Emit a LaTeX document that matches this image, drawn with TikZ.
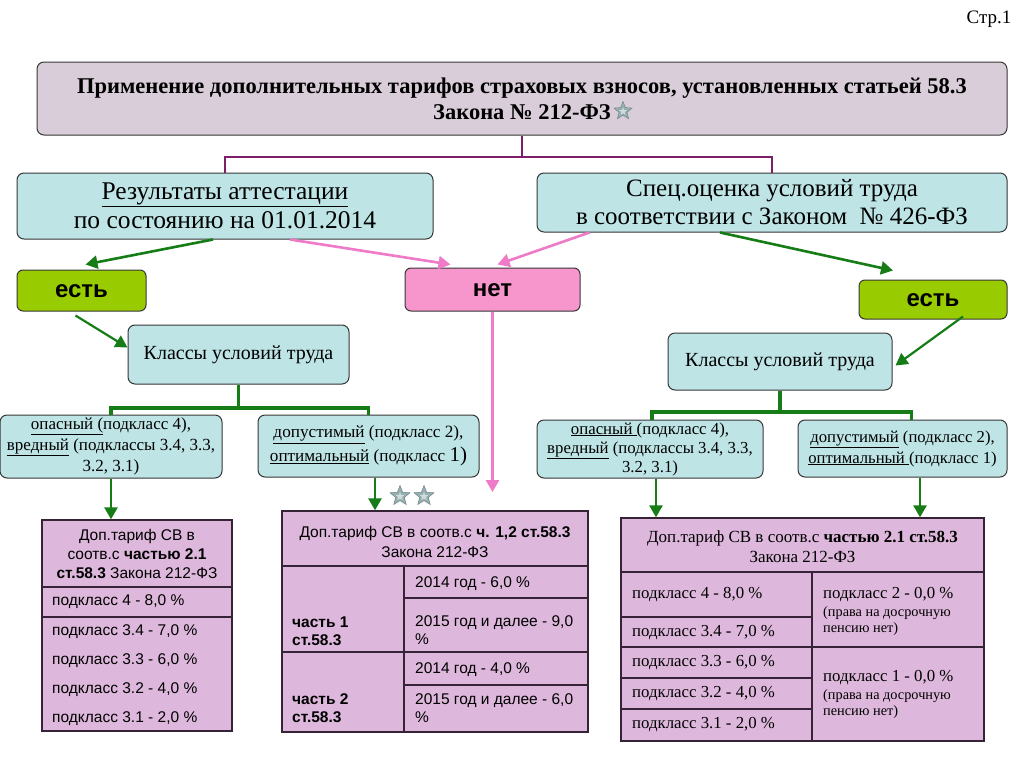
\documentclass[tikz,border=0pt]{standalone}
\usepackage{fontspec}
\setmainfont{Liberation Serif}
\newfontfamily\arialf{Liberation Sans}
\usetikzlibrary{arrows.meta,shapes.geometric}
\newcommand\myfs[2]{\fontsize{#1}{#2}\selectfont}
\definecolor{titlefill}{RGB}{216,205,216}
\definecolor{cyanfill}{RGB}{190,228,230}
\definecolor{tabfill}{RGB}{222,184,220}
\definecolor{ygreen}{RGB}{153,204,0}
\definecolor{pinkfill}{RGB}{246,150,204}
\definecolor{dgreen}{RGB}{22,125,22}
\definecolor{pinkln}{RGB}{238,122,200}
\definecolor{purpln}{RGB}{125,30,105}
\definecolor{bordc}{RGB}{55,55,55}
\definecolor{tabln}{RGB}{55,35,55}
\definecolor{starc}{RGB}{150,176,178}
\tikzset{
  rbox/.style={draw=bordc, line width=1pt, rounded corners=7pt, fill=cyanfill, align=center, inner sep=2pt},
  titlebox/.style={rbox, fill=titlefill},
  yesbox/.style={draw=bordc, line width=1pt, rounded corners=6pt, fill=ygreen, font=\arialf\bfseries\myfs{24}{26}, text height=13pt, text depth=0pt},
  nobox/.style={draw=bordc, line width=1pt, rounded corners=6pt, fill=pinkfill, font=\arialf\bfseries\myfs{24}{26}, text height=13pt, text depth=0pt},
  tab/.style={draw=tabln, line width=1.4pt, fill=tabfill, inner sep=0pt},
  tabrule/.style={draw=tabln, line width=1.2pt},
  garr/.style={draw=dgreen, line width=2.6pt, -{Triangle[length=12pt,width=13pt]}},
  parr/.style={draw=pinkln, line width=2.6pt, -{Triangle[length=12pt,width=13pt]}},
  gline/.style={draw=dgreen, line width=3.8pt},
  pline/.style={draw=purpln, line width=2.8pt},
  stxt/.style={anchor=west, inner sep=0pt, font=\arialf\myfs{15.5}{18}, align=left},
  rtxt/.style={anchor=west, inner sep=0pt, font=\myfs{16.8}{19}, align=left},
  bigstar/.style={star, star points=5, star point ratio=2.3, minimum size=#1, fill=starc, draw=starc!75!black, line width=0.5pt, inner sep=0pt},
  smstar/.style={star, star points=5, star point ratio=2.3, minimum size=#1, fill=white!55!starc, inner sep=0pt},
}
\begin{document}
\begin{tikzpicture}[x=1pt,y=-1pt]
\useasboundingbox (0,0) rectangle (1024,768);
\fill[white] (0,0) rectangle (1024,768);

\node[anchor=center, font=\myfs{19}{21}] (page) at (989,19) {Стр.1};

% title
\node[titlebox, minimum width=970pt, minimum height=73pt, font=\myfs{22.5}{26}\bfseries] (title) at (522,98.5)
  {Применение дополнительных тарифов страховых взносов, установленных статьей 58.3\\ Закона № 212-ФЗ};
\node[bigstar=19pt] (st0) at (623,111) {};
\node[smstar=8pt] (st0i) at (623,111.5) {};

% level 2
\node[rbox, minimum width=416pt, minimum height=66pt, font=\myfs{25.5}{29}] (res) at (225,206)
  {\underline{Результаты аттестации}\\ по состоянию на 01.01.2014};
\node[rbox, minimum width=470pt, minimum height=59pt, font=\myfs{25}{28}] (spec) at (772,202.5)
  {Спец.оценка условий труда\\ в соответствии с Законом\ \ № 426-ФЗ};

\coordinate (pj) at (522,157);
\draw[pline] (title.south) -- (pj);
\draw[pline] (pj) -| (res.north);
\draw[pline] (pj) -| (spec.north);

% yes / no
\node[yesbox, minimum width=129pt, minimum height=41pt] (estL) at (81.5,290.5) {есть};
\node[nobox, minimum width=175pt, minimum height=43pt] (net) at (492.5,289.5) {нет};
\node[yesbox, minimum width=148pt, minimum height=39pt] (estR) at (933,299.5) {есть};

\draw[garr] ([xshift=-12pt]res.south) -- ([xshift=4pt,yshift=5pt]estL.north);
\draw[parr] ([xshift=65pt]res.south) -- ([xshift=-42pt,yshift=3pt]net.north);
\draw[parr] ([xshift=53pt]spec.south west) -- ([xshift=5pt,yshift=3pt]net.north);
\draw[garr] ([xshift=-52pt]spec.south) -- ([xshift=-40pt,yshift=9pt]estR.north);

% classes
\node[rbox, minimum width=221pt, minimum height=59pt, font=\myfs{20}{23}] (klL) at (238.5,354.5) {Классы условий труда};
\node[rbox, minimum width=224pt, minimum height=57pt, font=\myfs{20}{23}] (klR) at (780,361.5) {Классы условий труда};
\draw[garr, line width=2.2pt] ([xshift=-6pt,yshift=-4pt]estL.south) -- ([yshift=7pt]klL.west);
\draw[garr, line width=2.2pt] ([xshift=30pt,yshift=3pt]estR.south) -- ([xshift=3pt,yshift=-4pt]klR.east);

% sub-class boxes
\node[rbox, minimum width=222pt, minimum height=63pt, font=\myfs{17}{21}] (b1) at (111,446.5)
  {\underline{опасный (}подкласс 4),\\ \underline{вредный} (подклассы 3.4, 3.3,\\ 3.2, 3.1)};
\node[rbox, minimum width=221pt, minimum height=62pt, font=\myfs{17.2}{24}] (b2) at (368.5,446)
  {\underline{допустимый} (подкласс 2),\\ \underline{оптимальный} (подкласс {\myfs{21}{24}1)}};
\node[rbox, minimum width=226pt, minimum height=58pt, font=\myfs{16.8}{19}] (rb1) at (650,449)
  {\underline{опасный }(подкласс 4),\\ \underline{вредный} (подклассы 3.4, 3.3,\\ 3.2, 3.1)};
\node[rbox, minimum width=209pt, minimum height=57pt, font=\myfs{16.7}{21}] (rb2) at (902.5,448.5)
  {\underline{допустимый} (подкласс 2),\\ \underline{оптимальный }(подкласс 1)};

\coordinate (tjL) at (238.5,408);
\draw[gline] (klL.south) -- (tjL);
\draw[gline] (b1.north) |- (tjL) -| (b2.north);
\coordinate (tjR) at (780,412);
\draw[gline] (klR.south) -- (tjR);
\draw[gline] ([xshift=2pt]rb1.north) |- (tjR) -| ([xshift=9pt]rb2.north);

% pink vertical
\draw[parr] (net.south) -- (492.5,492);

% tables
\node[tab, minimum width=190pt, minimum height=211pt] (tL) at (137,625.5) {};
\node[tab, minimum width=306pt, minimum height=221pt] (tM) at (435,621.5) {};
\node[tab, minimum width=363pt, minimum height=223pt] (tR) at (802.5,629.5) {};

\draw[garr, line width=2.8pt] (b1.south) -- (b1.south |- tL.north);
\draw[garr, line width=2.8pt] ([xshift=6.5pt]b2.south) -- ([xshift=6.5pt]b2.south |- tM.north);
\draw[garr, line width=2.8pt] ([xshift=6pt]rb1.south) -- ([xshift=6pt]rb1.south |- tR.north);
\draw[garr, line width=2.8pt] ([xshift=17.5pt]rb2.south) -- ([xshift=17.5pt]rb2.south |- tR.north);

\node[bigstar=21pt] (st1) at (400,496) {};
\node[smstar=9pt] (st1i) at (400,496.5) {};
\node[bigstar=21pt] (st2) at (424,496) {};
\node[smstar=9pt] (st2i) at (424,496.5) {};

% left table
\draw[tabrule] (42,587) -- (232,587);
\draw[tabrule] (42,617) -- (232,617);
\node[font=\arialf\myfs{15.5}{19}, align=center, inner sep=0pt] (tLh) at (137,554)
  {Доп.тариф СВ в\\ соотв.с \textbf{частью 2.1}\\ \textbf{ст.58.3} Закона 212-ФЗ};
\node[stxt] (tL1) at (52,602) {подкласс 4 - 8,0 \%};
\node[stxt] (tL2) at (52,632) {подкласс 3.4 - 7,0 \%};
\node[stxt] (tL3) at (52,661) {подкласс 3.3 - 6,0 \%};
\node[stxt] (tL4) at (52,690) {подкласс 3.2 - 4,0 \%};
\node[stxt] (tL5) at (52,719) {подкласс 3.1 - 2,0 \%};

% middle table
\draw[tabrule] (282,566) -- (588,566);
\draw[tabrule] (404,566) -- (404,732);
\draw[tabrule] (404,598) -- (588,598);
\draw[tabrule] (282,652) -- (588,652);
\draw[tabrule] (404,685) -- (588,685);
\node[font=\arialf\myfs{15.5}{20}, align=center, inner sep=0pt] (tMh) at (435,542)
  {Доп.тариф СВ в соотв.с \textbf{ч. 1,2 ст.58.3}\\ Закона 212-ФЗ};
\node[stxt, font=\arialf\bfseries\myfs{15.5}{18}] (tMa) at (292,631) {часть 1\\ ст.58.3};
\node[stxt, font=\arialf\bfseries\myfs{15.5}{18}] (tMb) at (292,708) {часть 2\\ ст.58.3};
\node[stxt] (tM1) at (415,584) {2014 год - 6,0 \%};
\node[stxt] (tM2) at (415,630) {2015 год и далее - 9,0\\ \%};
\node[stxt] (tM3) at (415,670) {2014 год - 4,0 \%};
\node[stxt] (tM4) at (415,708) {2015 год и далее - 6,0\\ \%};

% right table
\draw[tabrule] (621,572) -- (984,572);
\draw[tabrule] (812,572) -- (812,741);
\draw[tabrule] (621,617) -- (812,617);
\draw[tabrule] (621,647) -- (984,647);
\draw[tabrule] (621,678) -- (812,678);
\draw[tabrule] (621,709) -- (812,709);
\node[font=\myfs{17}{20}, align=center, inner sep=0pt] (tRh) at (802.5,547)
  {Доп.тариф СВ в соотв.с \textbf{частью 2.1 ст.58.3}\\ Закона 212-ФЗ};
\node[rtxt] (tR1) at (632,595) {подкласс 4 - 8,0 \%};
\node[rtxt] (tR2) at (632,633) {подкласс 3.4 - 7,0 \%};
\node[rtxt] (tR3) at (632,663) {подкласс 3.3 - 6,0 \%};
\node[rtxt] (tR4) at (632,694) {подкласс 3.2 - 4,0 \%};
\node[rtxt] (tR5) at (632,725) {подкласс 3.1 - 2,0 \%};
\node[rtxt] (tR6) at (823,595) {подкласс 2 - 0,0 \%};
\node[rtxt, font=\myfs{14.3}{16}] (tR6b) at (823,621) {(права на досрочную\\ пенсию нет)};
\node[rtxt] (tR7) at (823,678) {подкласс 1 - 0,0 \%};
\node[rtxt, font=\myfs{14.3}{16}] (tR7b) at (823,704.5) {(права на досрочную\\ пенсию нет)};
\end{tikzpicture}
\end{document}
